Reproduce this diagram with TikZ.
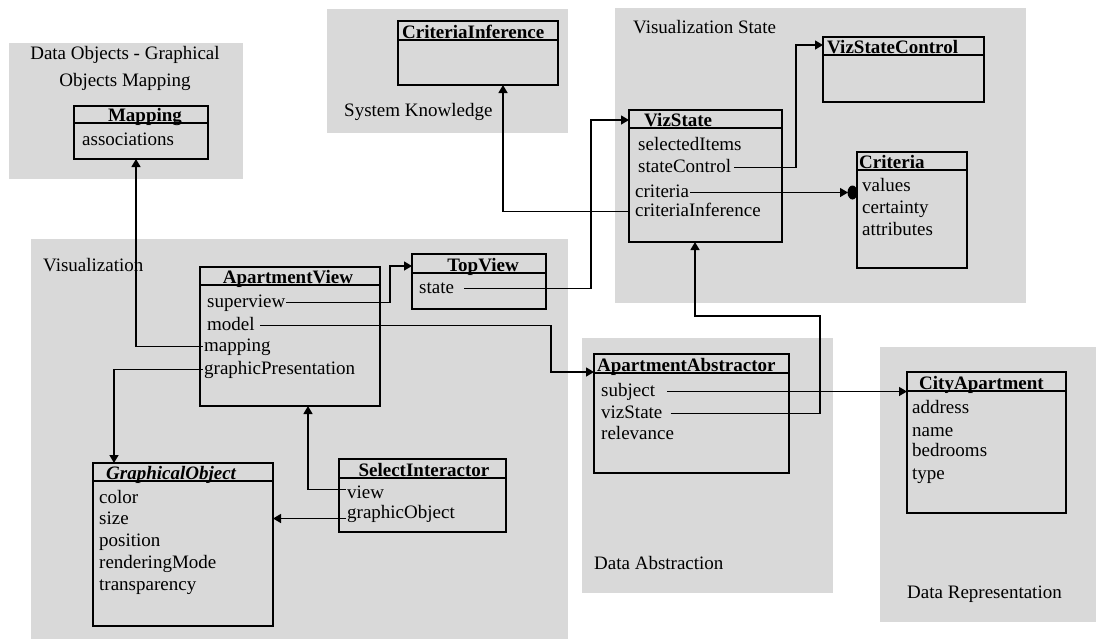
\documentclass[tikz,border=0pt]{standalone}
\usepackage{fontspec}
\setmainfont{Liberation Serif}
\usetikzlibrary{calc,arrows.meta}
\definecolor{panel}{RGB}{217,217,217}
\tikzset{
  box/.style={draw=black, line width=2pt, inner sep=0pt, outer sep=0pt},
  boxline/.style={draw=black, line width=2pt},
  txt/.style={font=\fontsize{19}{22}\selectfont, inner sep=1pt, text height=13pt, text depth=4pt},
  ttl/.style={txt, font=\fontsize{19}{22}\selectfont\bfseries},
  ittl/.style={txt, font=\fontsize{19}{22}\selectfont\bfseries\itshape},
  conn/.style={draw=black, line width=1.4pt},
  arr/.style={conn, -{Triangle[length=8pt,width=9pt]}},
}
\newcommand{\mkbox}[6]{%
  \node[box, anchor=north west, minimum width={#4-#2}, minimum height={#5-#3}] (#1) at (#2,#3) {};
  \draw[boxline] ($(#1.north west)+(0,#6-#3)$) -- ($(#1.north east)+(0,#6-#3)$);
}
\begin{document}
\begin{tikzpicture}[x=1pt,y=-1pt]
\fill[white] (0,0) rectangle (1096,641);
\useasboundingbox (0,0) rectangle (1096,641);
% panels
\fill[panel] (9,43) rectangle (243,179);
\fill[panel] (327,9) rectangle (568,133);
\fill[panel] (615,8) rectangle (1026,303);
\fill[panel] (31,239) rectangle (568,639);
\fill[panel] (582,338) rectangle (833,593);
\fill[panel] (880,347) rectangle (1096,622);
% panel labels
\node[txt, anchor=base] (l-dom1) at (125,59) {Data Objects - Graphical};
\node[txt, anchor=base] (l-dom2) at (125,86) {Objects Mapping};
\node[txt, anchor=base west] (l-sk) at (343,116) {System Knowledge};
\node[txt, anchor=base west] (l-vst) at (632,33) {Visualization State};
\node[txt, anchor=base west] (l-vis) at (42,271) {Visualization};
\node[txt, anchor=base west] (l-da) at (593,569) {Data Abstraction};
\node[txt, anchor=base west] (l-dr) at (906,598) {Data Representation};
% boxes
\mkbox{mapbox}{74}{106}{208}{159}{123}
\mkbox{cibox}{398}{21}{558}{85}{40}
\mkbox{vscbox}{823}{37}{984}{102}{55}
\mkbox{vsbox}{629}{110}{782}{242}{128}
\mkbox{critbox}{857}{152}{967}{268}{170}
\mkbox{tvbox}{412}{254}{546}{309}{273}
\mkbox{avbox}{200}{267}{380}{406}{285}
\mkbox{aabox}{594}{354}{789}{473}{373}
\mkbox{cabox}{907}{372}{1066}{513}{391}
\mkbox{gobox}{93}{463}{273}{626}{481}
\mkbox{sibox}{339}{459}{506}{532}{478}
% titles
\node[ttl, anchor=base] (map-t) at (145,121) {Mapping};
\node[ttl, anchor=base west] (ci-t) at (401,38) {CriteriaInference};
\node[ttl, anchor=base west] (vsc-t) at (826,53) {VizStateControl};
\node[ttl, anchor=base west] (vs-t) at (643,126) {VizState};
\node[ttl, anchor=base west] (crit-t) at (858,168) {Criteria};
\node[ttl, anchor=base] (tv-t) at (483,271) {TopView};
\node[ttl, anchor=base] (av-t) at (288,283) {ApartmentView};
\node[ttl, anchor=base west] (aa-t) at (596,371) {ApartmentAbstractor};
\node[ttl, anchor=base west] (ca-t) at (918,389) {CityApartment};
\node[ittl, anchor=base west] (go-t) at (105,479) {GraphicalObject};
\node[ttl, anchor=base] (si-t) at (424,476) {SelectInteractor};
% attributes
\node[txt, anchor=base west] (map-assoc) at (81,145) {associations};
\node[txt, anchor=base west] (vs-si) at (637,150) {selectedItems};
\node[txt, anchor=base west] (vs-sc) at (637,172) {stateControl};
\node[txt, anchor=base west] (vs-cr) at (634,197) {criteria};
\node[txt, anchor=base west] (vs-ci) at (634,216) {criteriaInference};
\node[txt, anchor=base west] (cr-v) at (861,191) {values};
\node[txt, anchor=base west] (cr-c) at (861,213) {certainty};
\node[txt, anchor=base west] (cr-a) at (861,235) {attributes};
\node[txt, anchor=base west] (tv-state) at (418,293) {state};
\node[txt, anchor=base west] (av-sv) at (206,307) {superview};
\node[txt, anchor=base west] (av-model) at (206,330) {model};
\node[txt, anchor=base west] (av-map) at (203,351) {mapping};
\node[txt, anchor=base west] (av-gp) at (203,374) {graphicPresentation};
\node[txt, anchor=base west] (aa-subj) at (600,396) {subject};
\node[txt, anchor=base west] (aa-vs) at (600,418) {vizState};
\node[txt, anchor=base west] (aa-rel) at (600,439) {relevance};
\node[txt, anchor=base west] (ca-addr) at (911,413) {address};
\node[txt, anchor=base west] (ca-name) at (911,436) {name};
\node[txt, anchor=base west] (ca-bed) at (911,456) {bedrooms};
\node[txt, anchor=base west] (ca-type) at (911,479) {type};
\node[txt, anchor=base west] (go-color) at (98,503) {color};
\node[txt, anchor=base west] (go-size) at (98,524) {size};
\node[txt, anchor=base west] (go-pos) at (98,546) {position};
\node[txt, anchor=base west] (go-rm) at (98,568) {renderingMode};
\node[txt, anchor=base west] (go-tr) at (98,590) {transparency};
\node[txt, anchor=base west] (si-view) at (346,498) {view};
\node[txt, anchor=base west] (si-go) at (346,518) {graphicObject};
% connectors
\draw[arr] (av-map.west) -| ([xshift=-5pt]mapbox.south);
\draw[arr] (av-gp.west) -| ([xshift=21pt]gobox.north west);
\coordinate (j-sv) at (390,266);
\draw[arr] (av-sv.east) -| (j-sv) -- (j-sv -| tvbox.west);
\coordinate (j-model) at (551,372);
\draw[arr] ([xshift=4pt]av-model.east) -| (j-model) -- (j-model -| aabox.west);
\coordinate (j-state) at (591,120);
\draw[arr] ([xshift=9pt]tv-state.east) -| (j-state) -- (j-state -| vsbox.west);
\coordinate (j-sc) at (796,45);
\draw[arr] ([xshift=2pt]vs-sc.east) -| (j-sc) -- (j-sc -| vscbox.west);
\draw[arr, shorten >=9pt] (vs-cr.east) -- (vs-cr.east -| critbox.west);
\fill ($(vs-cr.east -| critbox.west)+(-4.5,0)$) ellipse [x radius=5, y radius=7];
\draw[arr] (vs-ci.west -| vsbox.west) -| ([xshift=25pt]cibox.south);
\draw[arr] ([xshift=11pt]aa-subj.east) -- (aa-subj.east -| cabox.west);
\coordinate (j-vz) at (820,316);
\draw[arr] ([xshift=7pt]aa-vs.east) -| (j-vz) -| ([xshift=-10.5pt]vsbox.south);
\draw[arr] ([yshift=4pt]si-view.west) -| ([xshift=18pt]avbox.south);
\draw[arr] ([yshift=-5pt]si-go.west) -- ([yshift=-5pt]si-go.west -| gobox.east);
\end{tikzpicture}
\end{document}
